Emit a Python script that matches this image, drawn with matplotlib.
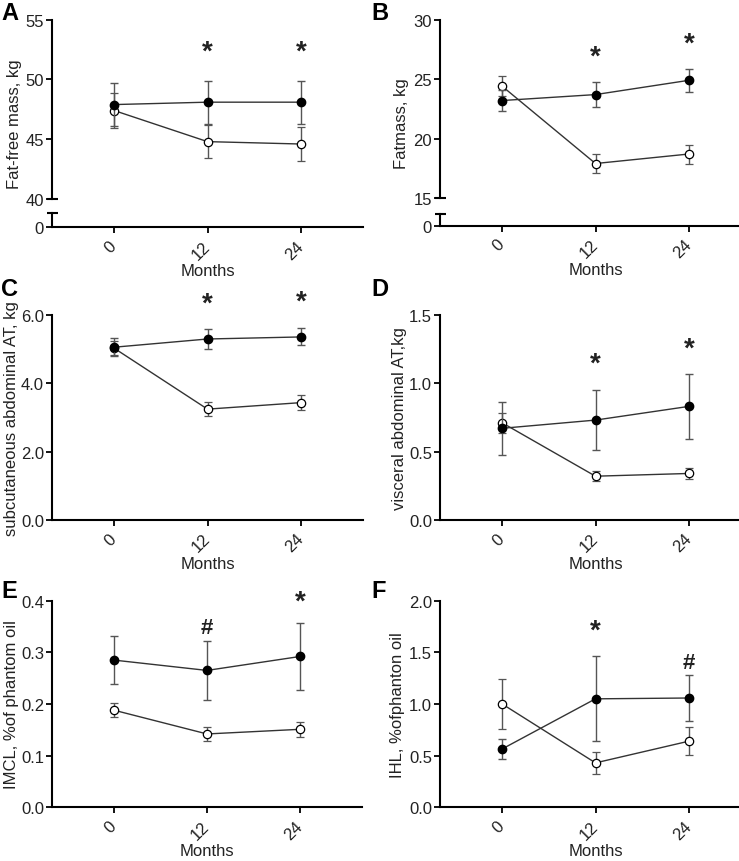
import matplotlib
matplotlib.use("Agg")
import matplotlib.pyplot as plt

plt.rcParams['font.family'] = ['Liberation Sans', 'DejaVu Sans']

W, H = 739, 862

months = [0, 12, 24]
month_labels = ['0', '12', '24']

# A - fat-free mass (kg)
ffm_filled = [47.9, 48.1, 48.1]
ffm_filled_err = [1.8, 1.8, 1.8]
ffm_open = [47.4, 44.8, 44.6]
ffm_open_err = [1.5, 1.4, 1.4]
ffm_marks = ['', '*', '*']
ffm_mark_y = [0, 52.3, 52.3]

# B - fat mass (kg)
fat_filled = [23.2, 23.7, 24.9]
fat_filled_err = [0.9, 1.05, 0.95]
fat_open = [24.4, 17.9, 18.7]
fat_open_err = [0.85, 0.77, 0.8]
fat_marks = ['', '*', '*']
fat_mark_y = [0, 26.9, 28.0]

# C - subcutaneous abdominal AT (kg)
sat_filled = [5.05, 5.29, 5.35]
sat_filled_err = [0.27, 0.28, 0.25]
sat_open = [5.02, 3.24, 3.43]
sat_open_err = [0.2, 0.21, 0.22]
sat_marks = ['', '*', '*']
sat_mark_y = [0, 6.31, 6.38]

# D - visceral abdominal AT (kg)
vat_filled = [0.67, 0.73, 0.83]
vat_filled_err = [0.195, 0.22, 0.235]
vat_open = [0.71, 0.32, 0.34]
vat_open_err = [0.075, 0.035, 0.038]
vat_marks = ['', '*', '*']
vat_mark_y = [0, 1.14, 1.25]

# E - IMCL (% of phantom oil)
imcl_filled = [0.285, 0.265, 0.292]
imcl_filled_err = [0.047, 0.057, 0.065]
imcl_open = [0.188, 0.142, 0.151]
imcl_open_err = [0.014, 0.014, 0.015]
imcl_marks = ['', '#', '*']
imcl_mark_y = [0, 0.348, 0.398]

# F - IHL (% of phantom oil)
ihl_filled = [0.565, 1.05, 1.058]
ihl_filled_err = [0.095, 0.41, 0.225]
ihl_open = [1.0, 0.43, 0.64]
ihl_open_err = [0.24, 0.105, 0.137]
ihl_marks = ['', '*', '#']
ihl_mark_y = [0, 1.71, 1.40]

TXT = '#222222'
SPINE_W = 1.5


def box(x0, y0, x1, y1):
    return [x0 / W, 1 - y1 / H, (x1 - x0) / W, (y1 - y0) / H]


def style(ax):
    ax.spines['top'].set_visible(False)
    ax.spines['right'].set_visible(False)
    ax.spines['left'].set_linewidth(SPINE_W)
    ax.spines['bottom'].set_linewidth(SPINE_W)
    ax.tick_params(width=1.3, length=4.5, labelsize=12, colors='black', labelcolor=TXT)
    ax.tick_params(axis='y', pad=1.2)
    ax.set_xlim(-8, 32)


def xaxis_months(ax):
    ax.set_xticks(months)
    ax.set_xticklabels(month_labels, rotation=45, ha='right', va='center',
                       rotation_mode='anchor')
    ax.tick_params(axis='x', pad=7)
    ax.set_xlabel('Months', fontsize=12, color=TXT, labelpad=1)


def draw_series(ax, filled, filled_err, opened, opened_err, marks, mark_y):
    ax.errorbar(months, opened, yerr=opened_err, fmt='-o', color='#333333', lw=1,
                ecolor='#555555', elinewidth=1, capsize=3, capthick=1,
                mfc='white', mec='black', mew=0.9, ms=6, clip_on=False, zorder=3)
    ax.errorbar(months, filled, yerr=filled_err, fmt='-o', color='#333333', lw=1,
                ecolor='#555555', elinewidth=1, capsize=3, capthick=1,
                mfc='black', mec='black', ms=6, clip_on=False, zorder=4)
    for m, s, y in zip(months, marks, mark_y):
        if s:
            ax.text(m, y, s, ha='center', va='center', fontweight='bold',
                    fontsize=20 if s == '*' else 16, color=TXT, clip_on=False)


def cap(ax, y):
    ax.plot([-0.016, 0.018], [y, y], transform=ax.transAxes, color='black',
            lw=SPINE_W, clip_on=False, solid_capstyle='butt')


def broken_panel(x0, x1, ytop, ybreak, ylow_top, ybottom, ylim, yticks,
                 filled, filled_err, opened, opened_err, marks, mark_y):
    up = fig.add_axes(box(x0, ytop, x1, ybreak))
    style(up)
    up.spines['bottom'].set_visible(False)
    up.set_ylim(*ylim)
    up.set_yticks(yticks)
    up.set_xticks([])
    cap(up, 0)
    draw_series(up, filled, filled_err, opened, opened_err, marks, mark_y)

    low = fig.add_axes(box(x0, ylow_top, x1, ybottom))
    style(low)
    low.set_ylim(0, 1)
    low.set_yticks([0])
    xaxis_months(low)
    cap(low, 1)
    return up, low


def panel(x0, x1, ytop, ybottom, ylim, yticks, yticklabels, ylabel, label_x,
          filled, filled_err, opened, opened_err, marks, mark_y):
    ax = fig.add_axes(box(x0, ytop, x1, ybottom))
    style(ax)
    ax.set_ylim(*ylim)
    ax.set_yticks(yticks)
    ax.set_yticklabels(yticklabels)
    xaxis_months(ax)
    ax.set_ylabel(ylabel, fontsize=12, color=TXT, va='center')
    ax.yaxis.set_label_coords((label_x - x0) / (x1 - x0), 0.5)
    draw_series(ax, filled, filled_err, opened, opened_err, marks, mark_y)
    return ax


fig = plt.figure(figsize=(W / 100, H / 100), dpi=100)

LX0, LX1 = 52, 363
RX0, RX1 = 440, 751

# A
broken_panel(LX0, LX1, 20.7, 200, 214.3, 228.3, (40, 55), [40, 45, 50, 55],
             ffm_filled, ffm_filled_err, ffm_open, ffm_open_err, ffm_marks, ffm_mark_y)
fig.text(15 / W, 1 - 124 / H, 'Fat-free mass, kg', rotation=90, ha='center', va='center',
         fontsize=12, color=TXT)

# B
broken_panel(RX0, RX1, 20.7, 199, 215, 226.7, (15, 30), [15, 20, 25, 30],
             fat_filled, fat_filled_err, fat_open, fat_open_err, fat_marks, fat_mark_y)
fig.text(402 / W, 1 - 124 / H, 'Fatmass, kg', rotation=90, ha='center', va='center',
         fontsize=12, color=TXT)

# C
panel(LX0, LX1, 315.7, 521, (0, 6), [0, 2, 4, 6], ['0.0', '2.0', '4.0', '6.0'],
      'subcutaneous abdominal AT, kg', 12,
      sat_filled, sat_filled_err, sat_open, sat_open_err, sat_marks, sat_mark_y)

# D
panel(RX0, RX1, 315.7, 521, (0, 1.5), [0, 0.5, 1.0, 1.5], ['0.0', '0.5', '1.0', '1.5'],
      'visceral abdominal AT,kg', 400,
      vat_filled, vat_filled_err, vat_open, vat_open_err, vat_marks, vat_mark_y)

# E
panel(LX0, LX1 - 1, 601.7, 808.3, (0, 0.4), [0, 0.1, 0.2, 0.3, 0.4],
      ['0.0', '0.1', '0.2', '0.3', '0.4'], 'IMCL, %of phantom oil', 12,
      imcl_filled, imcl_filled_err, imcl_open, imcl_open_err, imcl_marks, imcl_mark_y)

# F
panel(RX0, RX1, 601.7, 808.3, (0, 2.0), [0, 0.5, 1.0, 1.5, 2.0],
      ['0.0', '0.5', '1.0', '1.5', '2.0'], 'IHL, %ofphanton oil', 398,
      ihl_filled, ihl_filled_err, ihl_open, ihl_open_err, ihl_marks, ihl_mark_y)

# panel letters
for lbl, x, y in [('A', 1, 14), ('B', 371, 14), ('C', 1, 289), ('D', 371, 289),
                  ('E', 1, 592), ('F', 371, 592)]:
    fig.text(x / W, 1 - y / H, lbl, ha='left', va='center', fontsize=17,
             fontweight='bold', color='black')

fig.savefig('out.png', dpi=100)
